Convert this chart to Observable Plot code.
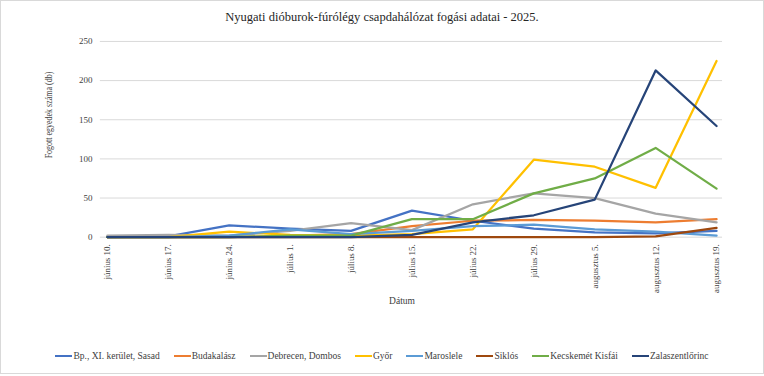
<!DOCTYPE html>
<html>
<head>
<meta charset="utf-8">
<script src="https://cdn.jsdelivr.net/npm/d3@7"></script>
<script src="https://cdn.jsdelivr.net/npm/@observablehq/plot@0.6"></script>
<style>
  body { margin: 0; background: #fff; }
  #wrap { position: relative; width: 764px; height: 374px; box-sizing: border-box; border: 1px solid #d9d9d9; font-family: 'Liberation Serif', 'Times New Roman', serif; color: #404040; overflow: hidden; }
  #chart { position: absolute; left: -1px; top: -1px; }
  #chart svg, #chart svg text { font-family: 'Liberation Serif', 'Times New Roman', serif !important; }
  #title { position: absolute; left: 0; right: 0; top: 9px; text-align: center; font-size: 12.5px; color: #262626; }
  #ylab { position: absolute; left: 48px; top: 114px; transform: translate(-50%, -50%) rotate(-90deg) scaleX(0.84); font-size: 9.5px; white-space: nowrap; }
  #xlab { position: absolute; left: 401px; top: 300px; transform: translate(-50%, -50%); font-size: 9.5px; }
  #legend { position: absolute; left: 0; right: 0; top: 350px; display: flex; justify-content: center; gap: 14px; font-size: 9.5px; }
  .item { display: flex; align-items: center; white-space: nowrap; }
  .sw { width: 17px; height: 2.5px; margin-right: 1px; }
</style>
</head>
<body>
<div id="wrap">
  <div id="chart"></div>
  <div id="title"></div>
  <div id="ylab"></div>
  <div id="xlab"></div>
  <div id="legend"></div>
</div>
<script>
const titleText = "Nyugati dióburok-fúrólégy csapdahálózat fogási adatai - 2025.";
const yTitle = "Fogott egyedek száma (db)";
const xTitle = "Dátum";
const dates = ["június 10.", "június 17.", "június 24.", "július 1.", "július 8.", "július 15.", "július 22.", "július 29.", "augusztus 5.", "augusztus 12.", "augusztus 19."];
const yTicks = [0, 50, 100, 150, 200, 250];
const seriesNames = ["Bp., XI. kerület, Sasad", "Budakalász", "Debrecen, Dombos", "Győr", "Maroslele", "Siklós", "Kecskemét Kisfái", "Zalaszentlőrinc"];
const seriesColors = ["#4472C4", "#ED7D31", "#A5A5A5", "#FFC000", "#5B9BD5", "#9E480E", "#70AD47", "#264478"];
const sasad      = [0, 1, 15, 11, 8, 34, 21, 11, 6, 5, 8];
const budakalasz = [0, 0, 0, 2, 4, 14, 21, 22, 21, 19, 23];
const debrecen   = [2, 3, 2, 8, 18, 9, 42, 56, 50, 30, 19];
const gyor       = [0, 0, 7, 3, 2, 4, 10, 99, 90, 63, 225];
const maroslele  = [0, 0, 2, 10, 4, 8, 14, 16, 10, 7, 2];
const siklos     = [0, 0, 0, 0, 0, 0, 0, 0, 0, 1, 12];
const kecskemet  = [0, 0, 0, 2, 2, 23, 23, 56, 75, 114, 62];
const zala       = [0, 0, 0, 0, 0, 3, 19, 28, 48, 213, 142];
const seriesValues = [sasad, budakalasz, debrecen, gyor, maroslele, siklos, kecskemet, zala];

const rows = [];
seriesNames.forEach((name, i) => {
  seriesValues[i].forEach((v, j) => rows.push({series: name, date: dates[j], value: v}));
});

const font = "'Liberation Serif', 'Times New Roman', serif";
const chart = Plot.plot({
  width: 764,
  height: 320,
  marginLeft: 100,
  marginRight: 41,
  marginTop: 41,
  marginBottom: 83,
  style: {fontFamily: font, fontSize: "9px", color: "#404040", background: "transparent"},
  x: {type: "point", domain: dates, padding: 0, insetLeft: 6, insetRight: 6},
  y: {domain: [0, 250]},
  color: {domain: seriesNames, range: seriesColors},
  marks: [
    Plot.gridY(yTicks, {stroke: "#d9d9d9", strokeOpacity: 1, strokeWidth: 1}),
    Plot.axisY(yTicks, {tickSize: 0, tickPadding: 8, label: null}),
    Plot.axisX({tickSize: 0, tickRotate: -90, tickPadding: 7, label: null}),
    Plot.line(rows, {x: "date", y: "value", z: "series", stroke: "series", strokeWidth: 2.25, strokeLinejoin: "round"})
  ]
});
document.getElementById("chart").appendChild(chart);
document.getElementById("title").textContent = titleText;
document.getElementById("ylab").textContent = yTitle;
document.getElementById("xlab").textContent = xTitle;
const legend = document.getElementById("legend");
seriesNames.forEach((name, i) => {
  const it = document.createElement("div");
  it.className = "item";
  const sw = document.createElement("span");
  sw.className = "sw";
  sw.style.background = seriesColors[i];
  const tx = document.createElement("span");
  tx.textContent = name;
  it.appendChild(sw);
  it.appendChild(tx);
  legend.appendChild(it);
});
</script>
</body>
</html>
